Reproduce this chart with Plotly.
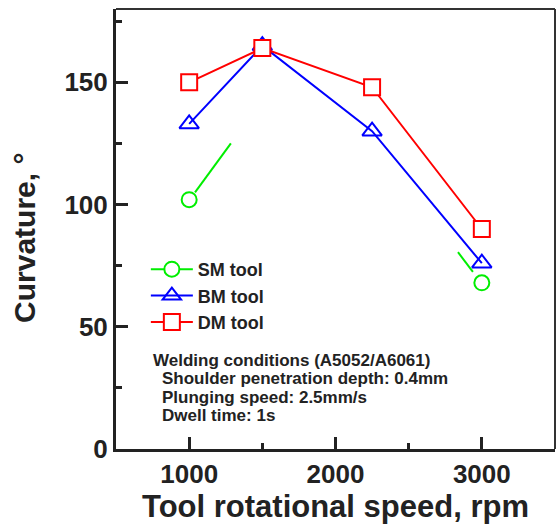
import plotly.graph_objects as go

# Data
speed_dm = [1000, 1500, 2250, 3000]
curv_dm = [150, 164, 148, 90]
speed_bm = [1000, 1500, 2250, 3000]
curv_bm = [133, 165, 130, 76]
speed_sm = [1000, 3000]
curv_sm = [102, 68]
# visible fragments of the SM connecting line
sm_seg1_x = [1040, 1285]
sm_seg1_y = [105, 125]
sm_seg2_x = [2837, 2939]
sm_seg2_y = [80.5, 72.5]

x_ticks = [1000, 2000, 3000]
y_ticks = [0, 50, 100, 150]

cond_lines = [
    "Welding conditions (A5052/A6061)",
    "Shoulder penetration depth: 0.4mm",
    "Plunging speed: 2.5mm/s",
    "Dwell time: 1s",
]

FONT = "Liberation Sans, Arial, sans-serif"
GREEN = "#00ee00"
BLUE = "#0000ff"
RED = "#ff0000"
INK = "#222222"

fig = go.Figure()

for sx, sy in [(sm_seg1_x, sm_seg1_y), (sm_seg2_x, sm_seg2_y)]:
    fig.add_trace(go.Scatter(x=sx, y=sy, mode="lines", line=dict(color=GREEN, width=2),
                             showlegend=False, hoverinfo="skip"))

fig.add_trace(go.Scatter(
    x=speed_sm, y=curv_sm, mode="markers", name="SM tool",
    marker=dict(symbol="circle", size=15, color="white", line=dict(color=GREEN, width=2)),
    showlegend=False))
# legend entry for SM (line + marker)
fig.add_trace(go.Scatter(
    x=[None], y=[None], mode="lines+markers", name="SM tool",
    line=dict(color=GREEN, width=2),
    marker=dict(symbol="circle", size=15, color="white", line=dict(color=GREEN, width=2))))

fig.add_trace(go.Scatter(
    x=speed_bm, y=curv_bm, mode="lines+markers", name="BM tool",
    line=dict(color=BLUE, width=2),
    marker=dict(symbol="triangle-up-open", size=17, color=BLUE, line=dict(color=BLUE, width=2))))

fig.add_trace(go.Scatter(
    x=speed_dm, y=curv_dm, mode="lines+markers", name="DM tool",
    line=dict(color=RED, width=2),
    marker=dict(symbol="square", size=16, color="white", line=dict(color=RED, width=2))))

fig.update_layout(
    width=557, height=524,
    margin=dict(l=116, r=2, t=9, b=75, autoexpand=False),
    paper_bgcolor="white", plot_bgcolor="white",
    font=dict(family=FONT, color=INK),
    showlegend=True,
    legend=dict(x=0.068, y=0.45, xanchor="left", yanchor="top",
                bgcolor="rgba(0,0,0,0)", borderwidth=0,
                font=dict(size=18, family=FONT, weight="bold", color=INK),
                itemwidth=42, tracegroupgap=0),
    xaxis=dict(range=[500, 3500], tickvals=x_ticks, ticktext=[str(v) for v in x_ticks],
               automargin=False,
               showgrid=False, zeroline=False,
               showline=True, linecolor=INK, linewidth=3,
               ticks="inside", ticklen=12, tickwidth=3, tickcolor=INK,
               tickfont=dict(size=26, family=FONT, weight="bold", color=INK),
               minor=dict(tickvals=[1500, 2500], ticks="inside", ticklen=6, tickwidth=3,
                          tickcolor=INK),
               title=dict(text="Tool rotational speed, rpm", standoff=6,
                          font=dict(size=31, family=FONT, weight="bold", color=INK))),
    yaxis=dict(range=[0, 180], tickvals=y_ticks, ticktext=[str(v) for v in y_ticks],
               automargin=False,
               showgrid=False, zeroline=False,
               showline=True, linecolor=INK, linewidth=3,
               ticks="inside", ticklen=12, tickwidth=3, tickcolor=INK,
               tickfont=dict(size=26, family=FONT, weight="bold", color=INK),
               minor=dict(tickvals=[25, 75, 125, 175], ticks="inside", ticklen=6, tickwidth=3,
                          tickcolor=INK)),
)

# y-axis title as a rotated annotation (to centre it like the reference)
fig.add_annotation(xref="paper", yref="paper", x=-0.207, y=0.48, xanchor="center",
                   yanchor="middle", textangle=-90, showarrow=False,
                   text="Curvature, °",
                   font=dict(size=30, family=FONT, weight="bold", color=INK))

# thin top and right frame
fig.add_shape(type="line", xref="paper", yref="paper", x0=0, x1=1, y0=1, y1=1,
              line=dict(color="#333333", width=2))
fig.add_shape(type="line", xref="paper", yref="paper", x0=1, x1=1, y0=0, y1=1,
              line=dict(color="#333333", width=2))

cond_y = [0.202, 0.160, 0.117, 0.076]
cond_x = [0.082, 0.1025, 0.1025, 0.1025]
for txt, xx, yy in zip(cond_lines, cond_x, cond_y):
    fig.add_annotation(
        xref="paper", yref="paper", x=xx, y=yy, xanchor="left", yanchor="middle",
        align="left", showarrow=False, text=txt, borderpad=0,
        font=dict(size=17, family=FONT, weight="bold", color=INK))

fig.write_html("out.html",
               config={"displayModeBar": False},
               post_script="document.body.style.margin='0';document.body.style.overflow='hidden';")
